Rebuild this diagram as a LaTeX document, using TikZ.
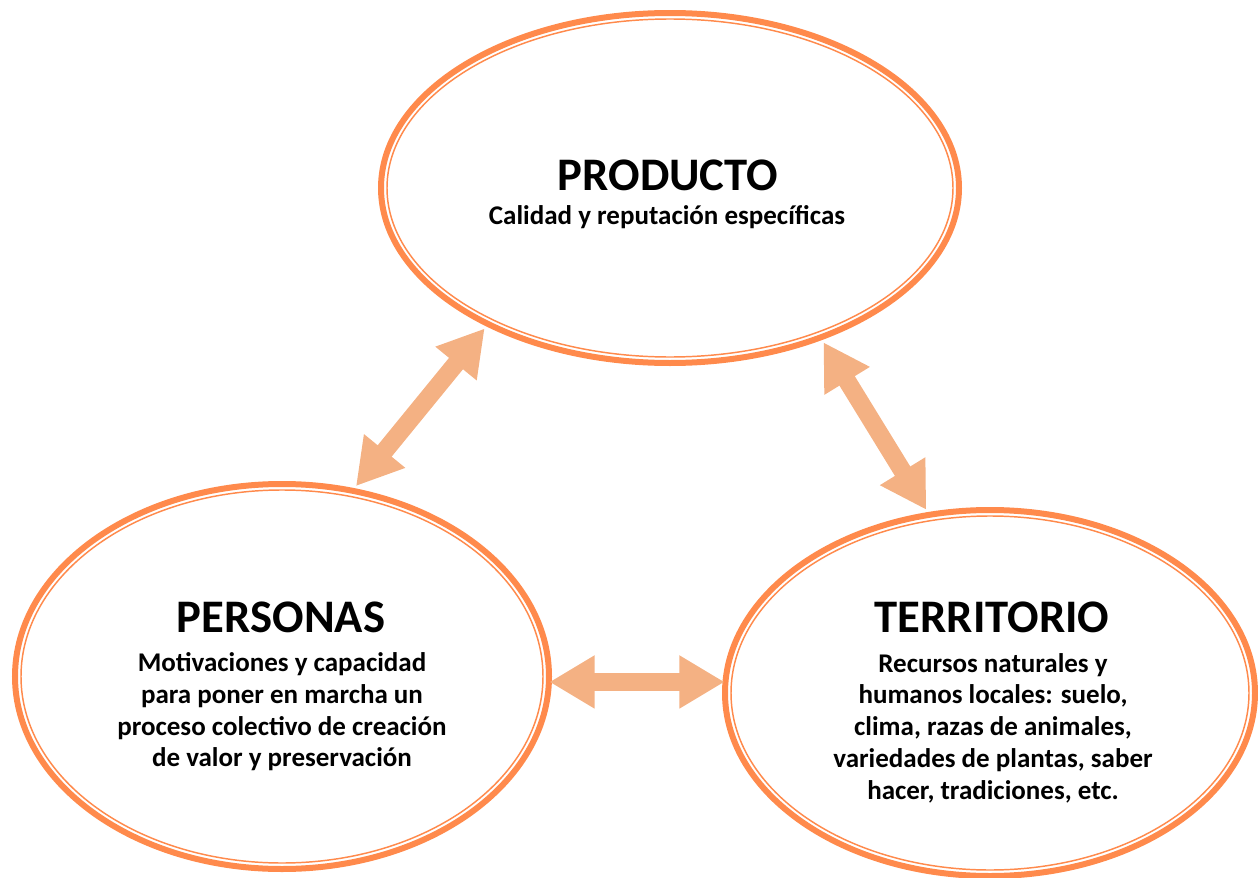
\documentclass[tikz,border=0pt]{standalone}
\usepackage{fontspec}
\setmainfont{Carlito}
\usepackage[HTML]{xcolor}
\usepackage{tikz}
\usetikzlibrary{positioning, arrows.meta, shapes.geometric}

\definecolor{ringorange}{HTML}{FF8A4C}
\definecolor{linkorange}{HTML}{F4B183}

\begin{document}
\begin{tikzpicture}[x=0.75pt, y=-0.75pt,
  ring/.style={ellipse, draw=ringorange, line width=4.5pt, inner sep=0pt},
  innerring/.style={draw=ringorange, line width=1.1pt},
  link/.style={draw=linkorange, line width=13.5pt, shorten >=2pt, shorten <=2pt,
    {Triangle[length=34pt, width=37.5pt, fill=linkorange]}-{Triangle[length=34pt, width=37.5pt, fill=linkorange]}},
  title/.style={font=\bfseries\fontsize{35}{42}\selectfont, inner sep=0pt, anchor=base},
  body/.style={font=\bfseries\fontsize{20.25}{23.8}\selectfont, align=center, inner sep=0pt}]

\useasboundingbox (0,0) rectangle (1258,878);

% --- Rings ---
\node[ring, minimum width=433.5pt, minimum height=262.5pt] (prod) at (670,188) {};
\node[ring, minimum width=400.5pt, minimum height=288.75pt] (pers) at (282,676.5) {};
\node[ring, minimum width=397.5pt, minimum height=274.5pt] (terr) at (990,693) {};

% inner thin line of each ring
\draw[innerring] (prod.center) ellipse [x radius=212.25pt, y radius=126.75pt];
\draw[innerring] (pers.center) ellipse [x radius=195.75pt, y radius=139.875pt];
\draw[innerring] (terr.center) ellipse [x radius=194.25pt, y radius=132.75pt];

% --- Links ---
\coordinate (persE) at ([yshift=-4.1pt]pers.east);
\draw[link] (prod.217.3) -- (pers.69.4);
\draw[link] (prod.315.6) -- (terr.109.3);
\draw[link, shorten >=-2pt, shorten <=-2pt] (persE) -- (persE -| terr.west);

% --- Texts ---
\node[title] (prodT) at (668,190) {PRODUCTO};
\node[body, anchor=base] (prodS) at (667,224) {Calidad y reputación específicas};

\node[title] (persT) at (281,632) {PERSONAS};
\node[body] (persS) at (282,712) {Motivaciones y capacidad\\
  para poner en marcha un\\
  proceso colectivo de creación\\
  de valor y preservación};

\node[title] (terrT) at (992,632) {TERRITORIO};
\node[body] (terrS) at (993,728) {Recursos naturales y\\
  humanos locales: suelo,\\
  clima, razas de animales,\\
  variedades de plantas, saber\\
  hacer, tradiciones, etc.};

\end{tikzpicture}
\end{document}
